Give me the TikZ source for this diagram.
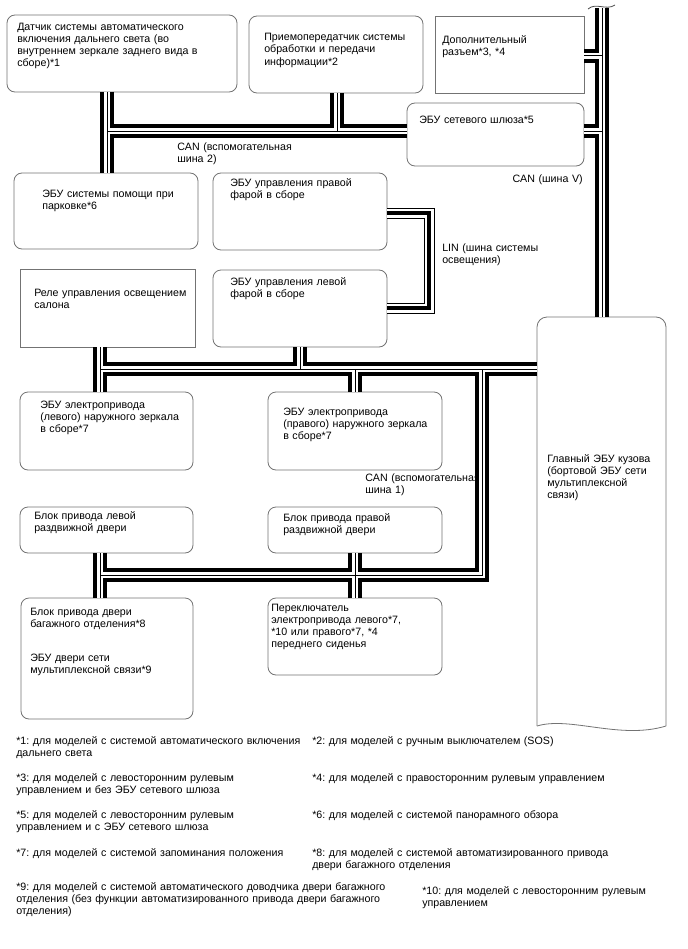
\documentclass[tikz,border=0pt]{standalone}
\usepackage{fontspec}
\setmainfont{Liberation Sans}
\frenchspacing
\tikzset{
  sz/.style 2 args={minimum width=#1*0.75pt, minimum height=#2*0.75pt},
  ecu/.style={draw=black!55, line width=0.6pt, fill=white, rounded corners=6pt, anchor=north west, inner sep=0pt, outer sep=0pt},
  plainbox/.style={ecu, sharp corners},
  txt/.style={anchor=base west, inner sep=0pt, text width=400pt, align=left, font=\fontsize{8}{9}\selectfont\frenchspacing},
  canouter/.style={line width=10.5pt, black},
  canwhite/.style={line width=4.6pt, white},
  canwire/.style={line width=0.75pt, black},
  linouter/.style={line width=8.25pt, black},
  linwhite/.style={line width=6.75pt, white},
  lincore/.style={line width=3pt, black},
}
\begin{document}
\begin{tikzpicture}[x=0.75pt, y=-0.75pt]
	\useasboundingbox (0,0) rectangle (688,949);
	% units
	\node[ecu, sz={230}{77}] (sens) at (7,15) {};
	\node[ecu, sz={174}{77}] (recv) at (249,16) {};
	\node[plainbox, sz={149}{77}] (conn) at (435,16) {};
	\node[ecu, sz={177}{63}] (gw) at (407,103) {};
	\node[ecu, sz={184}{76}] (park) at (14,173) {};
	\node[ecu, sz={174}{77}] (hlr) at (213,173) {};
	\node[plainbox, sz={175}{78}] (relay) at (20,269) {};
	\node[ecu, sz={174}{77}] (hll) at (213,270) {};
	\node[ecu, sz={173}{78}] (mirl) at (20,392) {};
	\node[ecu, sz={174}{78}] (mirr) at (268,392) {};
	\node[ecu, sz={173}{46}] (sdl) at (20,507) {};
	\node[ecu, sz={174}{46}] (sdr) at (268,507) {};
	\node[ecu, sz={172}{121}] (tail) at (21,598) {};
	\node[ecu, sz={174}{77}] (seat) at (268,598) {};
	\node[anchor=north west, inner sep=0pt, outer sep=0pt, sz={129}{409}] (main) at (537,317) {};
	\draw[black!55, line width=0.6pt, rounded corners=7.5pt] (main.south west) -- (main.north west) -- (main.north east) -- (main.south east);
	\draw[black!55, line width=0.6pt] (main.south west) .. controls +(33,-10) and +(-46,14) .. (main.south east);

	% texts in the units
	\node[txt] (sens-t) at (17,31) {Датчик системы автоматического\\включения дальнего света (во\\внутреннем зеркале заднего вида в\\сборе)*1};
	\node[txt] (recv-t) at (264,41) {Приемопередатчик системы\\обработки и передачи\\информации*2};
	\node[txt] (conn-t) at (442,44) {Дополнительный\\разъем*3, *4};
	\node[txt] (gw-t) at (419,123) {ЭБУ сетевого шлюза*5};
	\node[txt] (park-t) at (42,197) {ЭБУ системы помощи при\\парковке*6};
	\node[txt] (hlr-t) at (230,186) {ЭБУ управления правой\\фарой в сборе};
	\node[txt] (relay-t) at (34,296) {Реле управления освещением\\салона};
	\node[txt] (hll-t) at (230,285) {ЭБУ управления левой\\фарой в сборе};
	\node[txt] (mirl-t) at (40,408) {ЭБУ электропривода\\(левого) наружного зеркала\\в сборе*7};
	\node[txt] (mirr-t) at (283,415) {ЭБУ электропривода\\(правого) наружного зеркала\\в сборе*7};
	\node[txt] (sdl-t) at (34,519) {Блок привода левой\\раздвижной двери};
	\node[txt] (sdr-t) at (283,521) {Блок привода правой\\раздвижной двери};
	\node[txt] (tail-t) at (30,615) {Блок привода двери\\багажного отделения*8};
	\node[txt] (tail-t2) at (30,661) {ЭБУ двери сети\\мультиплексной связи*9};
	\node[txt] (seat-t) at (271,611) {Переключатель\\электропривода левого*7,\\{}*10 или правого*7, *4\\переднего сиденья};
	\node[txt] (main-t) at (547,462) {Главный ЭБУ кузова\\(бортовой ЭБУ сети\\мультиплексной\\связи)};

	% bus labels
	\node[txt] (can2-l) at (177,150) {CAN (вспомогательная\\шина 2)};
	\node[txt, anchor=base east, align=right] (canv-l) at (583,182) {CAN (шина V)};
	\node[txt] (lin-l) at (442,251) {LIN (шина системы\\освещения)};
	\node[txt] (can1-l) at (365,481) {CAN (вспомогательная\\шина 1)};

	% junctions
	\coordinate (j1) at (107,131);
	\coordinate (j2) at (337,131);
	\coordinate (vtop) at (602,8);
	\coordinate (v1) at (602,56);
	\coordinate (v2) at (602,131);
	\coordinate (j3) at (100,369);
	\coordinate (j4) at (300,369);
	\coordinate (j5) at (355,369);
	\coordinate (j6) at (482,369);
	\coordinate (j7) at (482,575);
	\coordinate (j8) at (100,575);
	\coordinate (j9) at (355,575);
	\coordinate (l1) at (429,213);
	\coordinate (l2) at (429,308);

	% CAN buses
	\foreach \ly in {canouter,canwhite,canwire}{
		\draw[\ly] (sens.south -| j1) -- (park.north -| j1);
		\draw[\ly] (j1) -- (gw.west |- j1);
		\draw[\ly] (recv.south -| j2) -- (j2);
		\draw[\ly] (vtop) -- (main.north -| vtop);
		\draw[\ly] (conn.east |- v1) -- (v1);
		\draw[\ly] (gw.east |- v2) -- (v2);
		\draw[\ly] (relay.south -| j3) -- (mirl.north -| j3);
		\draw[\ly] (j3) -- (main.west |- j3);
		\draw[\ly] (hll.south -| j4) -- (j4);
		\draw[\ly] (j5) -- (mirr.north -| j5);
		\draw[\ly] (j6) -- (j7) -- (j8);
		\draw[\ly] (sdl.south -| j8) -- (tail.north -| j8);
		\draw[\ly] (sdr.south -| j9) -- (seat.north -| j9);
	}
	% LIN bus
	\foreach \ly in {linouter,linwhite,lincore}{
		\draw[\ly] (hlr.east |- l1) -- (l1) -- (l2) -- (hll.east |- l2);
	}
	\draw[black!70, line width=0.6pt] (588,9) .. controls (596,2) and (606,11) .. (615,5);

	% footnotes
	\node[txt] (fn1) at (16,744) {*1: для моделей с системой автоматического включения\\дальнего света};
	\node[txt] (fn2) at (312,744) {*2: для моделей с ручным выключателем (SOS)};
	\node[txt] (fn3) at (16,781) {*3: для моделей с левосторонним рулевым\\управлением и без ЭБУ сетевого шлюза};
	\node[txt] (fn4) at (312,781) {*4: для моделей с правосторонним рулевым управлением};
	\node[txt] (fn5) at (16,818) {*5: для моделей с левосторонним рулевым\\управлением и с ЭБУ сетевого шлюза};
	\node[txt] (fn6) at (312,818) {*6: для моделей с системой панорамного обзора};
	\node[txt] (fn7) at (16,856) {*7: для моделей с системой запоминания положения};
	\node[txt] (fn8) at (312,856) {*8: для моделей с системой автоматизированного привода\\двери багажного отделения};
	\node[txt] (fn9) at (16,890) {*9: для моделей с системой автоматического доводчика двери багажного\\отделения (без функции автоматизированного привода двери багажного\\отделения)};
	\node[txt] (fn10) at (422,894) {*10: для моделей с левосторонним рулевым\\управлением};
\end{tikzpicture}
\end{document}
